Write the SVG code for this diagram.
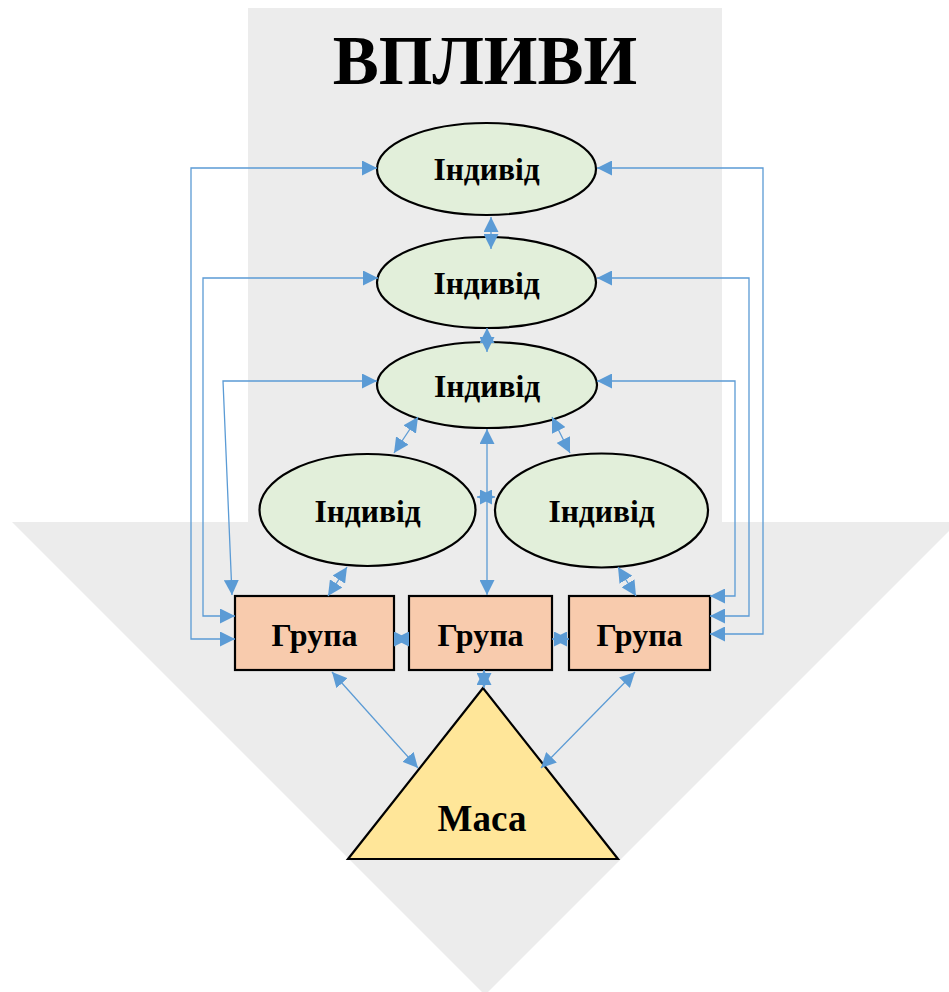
<svg xmlns="http://www.w3.org/2000/svg" width="949" height="992" viewBox="0 0 949 992">
<defs>
<style>
.bg{fill:#ececec;stroke:none}
.ell{fill:#e2efda;stroke:#000;stroke-width:2.2}
.box{fill:#f8cbad;stroke:#000;stroke-width:2.2}
.tri{fill:#ffe699;stroke:#000;stroke-width:2.2}
.lbl{font-family:"Liberation Serif","DejaVu Serif",serif;font-weight:bold;fill:#000;text-anchor:middle}
.c{fill:none;stroke:#5b9bd5;stroke-width:1.3;marker-start:url(#ah);marker-end:url(#ah)}
</style>
<marker id="ah" markerUnits="userSpaceOnUse" markerWidth="15" markerHeight="15" refX="15" refY="7.5" orient="auto-start-reverse" viewBox="0 0 15 15">
<path d="M0,0 L15,7.5 L0,15 Z" fill="#5b9bd5"/>
</marker>
</defs>
<g id="background">
<rect class="bg" x="248" y="8" width="474" height="515"/>
<polygon class="bg" points="12,522 958,522 485,995"/>
</g>
<text class="lbl" x="485" y="84" font-size="69" font-family="Liberation Serif, serif">ВПЛИВИ</text>
<g id="individ1">
<ellipse class="ell" cx="486.5" cy="169" rx="109.5" ry="46"/>
<text class="lbl" x="486.5" y="180" font-size="31.5">Індивід</text>
</g>
<g id="individ2">
<ellipse class="ell" cx="486.5" cy="282.5" rx="109.5" ry="45.5"/>
<text class="lbl" x="486.5" y="294" font-size="31.5">Індивід</text>
</g>
<g id="individ3">
<ellipse class="ell" cx="487" cy="385" rx="110" ry="43"/>
<text class="lbl" x="487" y="397" font-size="31.5">Індивід</text>
</g>
<g id="individ4">
<ellipse class="ell" cx="367.5" cy="510" rx="108" ry="56"/>
<text class="lbl" x="367.5" y="522" font-size="31.5">Індивід</text>
</g>
<g id="individ5">
<ellipse class="ell" cx="601.5" cy="510.5" rx="106.5" ry="57"/>
<text class="lbl" x="601.5" y="522" font-size="31.5">Індивід</text>
</g>
<g id="group1">
<rect class="box" x="235" y="596" width="159" height="74"/>
<text class="lbl" x="314.5" y="646" font-size="32">Група</text>
</g>
<g id="group2">
<rect class="box" x="409" y="596" width="143" height="74"/>
<text class="lbl" x="480.5" y="646" font-size="32">Група</text>
</g>
<g id="group3">
<rect class="box" x="569" y="596" width="141" height="74"/>
<text class="lbl" x="639.5" y="646" font-size="32">Група</text>
</g>
<g id="masa">
<polygon class="tri" points="483,688 348,859 618,859"/>
<text class="lbl" x="482" y="831" font-size="37">Маса</text>
</g>
<g id="connectors">
<path class="c" d="M377,168 H191 V639 H235"/>
<path class="c" d="M378,278 H203 V616 H235"/>
<path class="c" d="M377,381 H223 L232,595"/>
<path class="c" d="M597,168 H763 V634 H710"/>
<path class="c" d="M597,278 H749 V616 H710"/>
<path class="c" d="M597,381 H735 V596 H710"/>
<path class="c" d="M491,217 L491,249"/>
<path class="c" d="M487,328 L487,352"/>
<path class="c" d="M418,417 L394,453"/>
<path class="c" d="M552,417 L570,453"/>
<path class="c" d="M487,429 L487,595"/>
<path class="c" d="M477,497 L495,497"/>
<path class="c" d="M347,567 L328,596"/>
<path class="c" d="M618,567 L636,596"/>
<path class="c" d="M394,639 L409,639"/>
<path class="c" d="M552,639 L569,639"/>
<path class="c" d="M484,670 L484,688"/>
<path class="c" d="M332,672 L418,768"/>
<path class="c" d="M635,672 L541,768"/>
</g>
</svg>
